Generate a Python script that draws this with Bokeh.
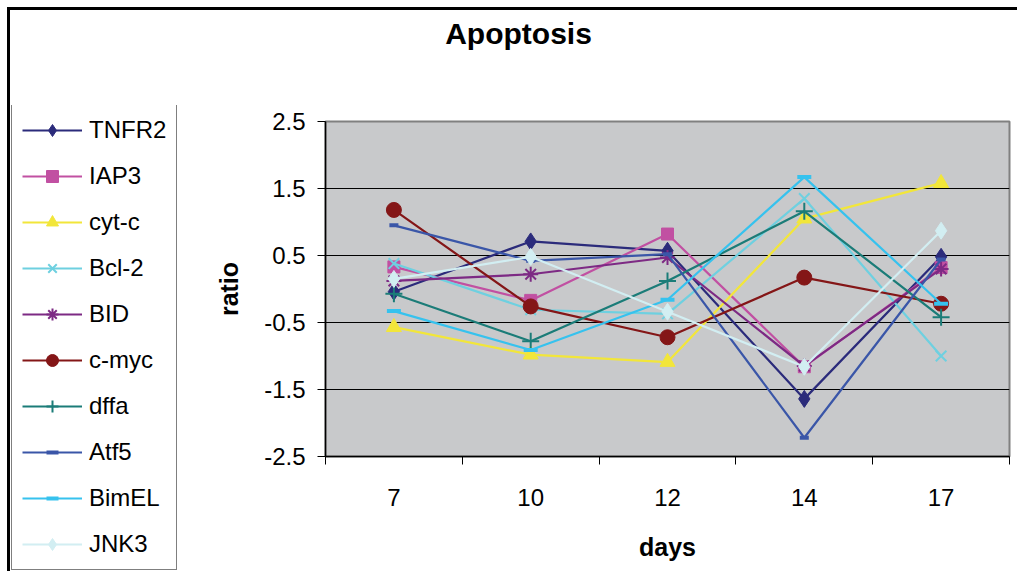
from bokeh.plotting import figure
from bokeh.layouts import row, column
from bokeh.models import Range1d, FixedTicker, Legend, LegendItem, Label
from bokeh.embed import file_html
from bokeh.resources import INLINE

days = ["7", "10", "12", "14", "17"]
series_names = ["TNFR2", "IAP3", "cyt-c", "Bcl-2", "BID", "c-myc", "dffa", "Atf5", "BimEL", "JNK3"]
TNFR2 = [-0.04, 0.71, 0.57, -1.64, 0.48]
IAP3 = [0.33, -0.17, 0.82, -1.16, 0.32]
cyt_c = [-0.57, -0.98, -1.09, 1.05, 1.58]
Bcl_2 = [0.38, -0.31, -0.37, 1.35, -1.00]
BID = [0.12, 0.22, 0.47, -1.15, 0.30]
c_myc = [1.18, -0.26, -0.72, 0.17, -0.22]
dffa = [-0.07, -0.78, 0.12, 1.16, -0.42]
Atf5 = [0.95, 0.42, 0.52, -2.22, 0.44]
BimEL = [-0.33, -0.91, -0.16, 1.67, -0.22]
JNK3 = [0.15, 0.48, -0.34, -1.16, 0.87]
y_ticks = [-2.5, -1.5, -0.5, 0.5, 1.5, 2.5]
chart_title = "Apoptosis"

values = [TNFR2, IAP3, cyt_c, Bcl_2, BID, c_myc, dffa, Atf5, BimEL, JNK3]
colors = ["#2B2B7B", "#C150A2", "#F2E63A", "#6ED0E0", "#7D2A84",
          "#841617", "#1B7C78", "#3A56A8", "#36C2EE", "#D2EEF2"]
markers = ["diamond", "square", "triangle", "x", "asterisk",
           "circle", "cross", "dash", "dash", "diamond"]
sizes = [17, 12, 15, 15, 15, 15, 17, 9, 14, 17]
mlw = [1, 1, 1, 2, 2, 1, 2, 4, 4, 1]

FONT = "Liberation Sans"
TW, TH = 1010, 98
H = 466

# ---------------- title strip ----------------
tf = figure(width=TW, height=TH, output_backend="svg", toolbar_location=None,
            x_range=Range1d(0, TW), y_range=Range1d(0, TH),
            x_axis_location=None, y_axis_location=None,
            min_border=0, margin=(7, 0, 0, 7))
tf.frame_align = False
tf.styles = {"border-left": "3px solid black", "border-top": "3px solid black"}
tf.outline_line_color = None
tf.background_fill_color = "white"
tf.border_fill_color = "white"
tf.xgrid.visible = False
tf.ygrid.visible = False
tf.add_layout(Label(x=508, y=75, text=chart_title, text_font=FONT,
                    text_font_size="30px", text_font_style="bold", text_color="black",
                    text_align="center", text_baseline="alphabetic"))

# ---------------- legend panel ----------------
lf = figure(width=180, height=H, output_backend="svg", toolbar_location=None,
            x_range=Range1d(0, 1), y_range=Range1d(0, 1),
            x_axis_location=None, y_axis_location=None,
            min_border=0, margin=(0, 0, 0, 7))
lf.frame_align = False
lf.styles = {"border-left": "3px solid black"}
lf.outline_line_color = None
lf.background_fill_color = "white"
lf.border_fill_color = "white"
lf.xgrid.visible = False
lf.ygrid.visible = False

items = []
for name, c, m, s, lw in zip(series_names, colors, markers, sizes, mlw):
    # off-range placeholder point: only used to draw the legend glyph
    r1 = lf.line([-10, -9], [-10, -9], line_color=c, line_width=2.2)
    r2 = lf.scatter([-10], [-10], marker=m, size=s, fill_color=c, line_color=c, line_width=lw)
    items.append(LegendItem(label=name, renderers=[r1, r2]))

legend = Legend(items=items, location=(1, 1))
legend.label_text_font = FONT
legend.label_text_font_size = "24px"
legend.label_text_color = "black"
legend.glyph_width = 60
legend.glyph_height = 30
legend.label_height = 30
legend.spacing = 16
legend.padding = 10
legend.margin = 0
legend.label_standoff = 7
legend.border_line_color = "black"
legend.border_line_width = 1
legend.background_fill_color = "white"
legend.background_fill_alpha = 1
lf.add_layout(legend, "center")

# ---------------- main chart ----------------
p = figure(width=830, height=H, output_backend="svg", toolbar_location=None,
           x_range=Range1d(0, 5), y_range=Range1d(-2.5, 2.5),
           min_border_left=138, min_border_top=16, min_border_right=8,
           min_border_bottom=115)
p.frame_align = False
p.title.text = ""

p.background_fill_color = "#C8C9CB"
p.border_fill_color = "white"
p.outline_line_color = "#808080"
p.outline_line_width = 2

xs = [i + 0.5 for i in range(len(days))]

xa = p.below[0]
xa.ticker = FixedTicker(ticks=xs, minor_ticks=list(range(len(days) + 1)))
xa.major_label_overrides = {x: d for x, d in zip(xs, days)}
xa.major_tick_out = 0
xa.major_tick_in = 0
xa.minor_tick_out = 8
xa.minor_tick_in = 0
xa.minor_tick_line_color = "black"
xa.axis_line_color = "black"
xa.axis_line_width = 1.5
xa.major_label_standoff = 24
xa.major_label_text_font = FONT
xa.major_label_text_font_size = "24px"
xa.major_label_text_color = "black"
xa.axis_label = "days"
xa.axis_label_text_font = FONT
xa.axis_label_text_font_size = "25px"
xa.axis_label_text_font_style = "bold"
xa.axis_label_text_color = "black"
xa.axis_label_standoff = 24

ya = p.left[0]
ya.ticker = FixedTicker(ticks=y_ticks, minor_ticks=[])
ya.major_label_overrides = {t: ("%.1f" % t) for t in y_ticks}
ya.major_tick_out = 8
ya.major_tick_in = 0
ya.major_tick_line_color = "black"
ya.axis_line_color = "black"
ya.axis_line_width = 1.5
ya.major_label_standoff = 12
ya.major_label_text_font = FONT
ya.major_label_text_font_size = "24px"
ya.major_label_text_color = "black"
ya.axis_label = "ratio"
ya.axis_label_text_font = FONT
ya.axis_label_text_font_size = "25px"
ya.axis_label_text_font_style = "bold"
ya.axis_label_text_color = "black"
ya.axis_label_standoff = 18

p.xgrid.visible = False
p.ygrid.ticker = FixedTicker(ticks=y_ticks)
p.ygrid.grid_line_color = "black"
p.ygrid.grid_line_width = 1

for vals, c, m, s, lw in zip(values, colors, markers, sizes, mlw):
    p.line(xs, vals, line_color=c, line_width=2.2)
    p.scatter(xs, vals, marker=m, size=s, fill_color=c, line_color=c, line_width=lw)

layout = column(tf, row(lf, p))
open("out.html", "w").write(file_html(layout, INLINE))
